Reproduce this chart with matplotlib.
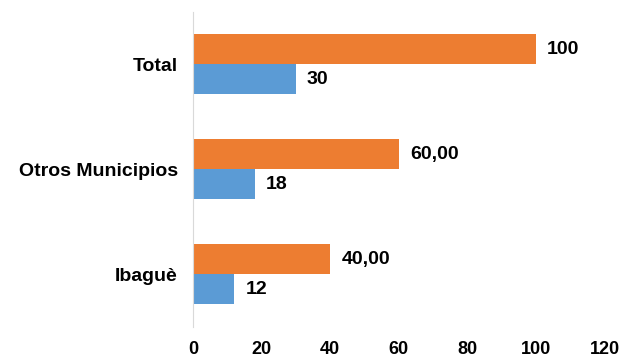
import matplotlib.pyplot as plt
import numpy as np

plt.rcParams['font.family'] = ['Liberation Sans', 'DejaVu Sans']

categories = ['Ibaguè', 'Otros Municipios', 'Total']
orange_vals = [40, 60, 100]
blue_vals = [12, 18, 30]
orange_labels = ['40,00', '60,00', '100']
blue_labels = ['12', '18', '30']
xticks = [0, 20, 40, 60, 80, 100, 120]

fig = plt.figure(figsize=(6.21, 3.6), dpi=100)
ax = fig.add_axes([0.311, 0.092, 0.6626, 0.875])

y = np.arange(len(categories))
h = 0.285
ax.barh(y + h / 2, orange_vals, height=h, color='#ED7D31')
ax.barh(y - h / 2, blue_vals, height=h, color='#5B9BD5')

for yi, v, lab in zip(y, orange_vals, orange_labels):
    ax.text(v + 3.2, yi + h / 2, lab, va='center', ha='left',
            fontsize=14, fontweight='bold')
for yi, v, lab in zip(y, blue_vals, blue_labels):
    ax.text(v + 3.2, yi - h / 2, lab, va='center', ha='left',
            fontsize=14, fontweight='bold')

ax.set_xlim(0, 120)
ax.set_ylim(-0.5, 2.5)
ax.set_xticks(xticks)
ax.set_yticks(y)
ax.set_yticklabels(categories)
for s in ['top', 'right', 'bottom']:
    ax.spines[s].set_visible(False)
ax.spines['left'].set_color('#D9D9D9')
ax.tick_params(axis='both', length=0)
ax.tick_params(axis='x', pad=10, labelsize=13)
ax.tick_params(axis='y', pad=11, labelsize=14)
for t in ax.get_xticklabels() + ax.get_yticklabels():
    t.set_fontweight('bold')

fig.savefig('out.png', dpi=100)
